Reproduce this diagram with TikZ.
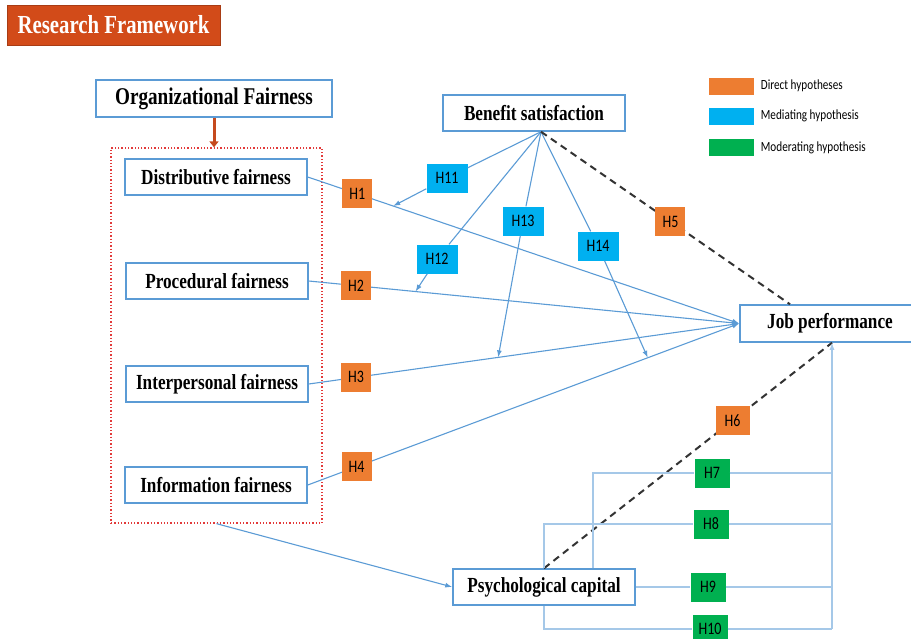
\documentclass[tikz,border=0pt]{standalone}
\usepackage{fontspec}
\newfontfamily\boxfont{Liberation Serif}[FakeStretch=0.8]
\newfontfamily\hfont{Carlito}[FakeStretch=0.8]
\usetikzlibrary{arrows.meta, positioning, calc}
\definecolor{lineblue}{HTML}{5B9BD5}
\definecolor{titlered}{HTML}{D24B19}
\definecolor{arrowred}{HTML}{C54A1E}
\definecolor{dotred}{HTML}{E23A3A}
\definecolor{hyporange}{HTML}{ED7D31}
\definecolor{hypblue}{HTML}{00B0F0}
\definecolor{hypgreen}{HTML}{00B050}

\begin{document}
\begin{tikzpicture}[
        x=1pt, y=-1pt,
        factor/.style={rectangle, draw=lineblue, line width=1.5pt, fill=white, minimum width=182pt, minimum height=36pt, inner sep=0pt, font=\boxfont\bfseries\fontsize{21.5}{24}\selectfont},
        hyp/.style={rectangle, minimum width=30pt, minimum height=29pt, inner sep=0pt, font=\hfont\fontsize{17.5}{19}\selectfont},
        direct/.style={hyp, fill=hyporange},
        mediate/.style={hyp, fill=hypblue, minimum width=41pt},
        moderate/.style={hyp, fill=hypgreen, minimum width=35pt},
        link/.style={-{Latex[length=7pt,width=5pt]}, draw=lineblue, line width=1.1pt},
        dline/.style={draw=black!80, line width=2pt, dash pattern=on 7pt off 5pt},
        modline/.style={draw=lineblue!55, line width=1.2pt},
        legbox/.style={rectangle, minimum width=45pt, minimum height=17pt, inner sep=0pt},
        legtext/.style={font=\hfont\fontsize{14}{16}\selectfont, inner sep=0pt, anchor=west}
    ]
        \useasboundingbox (0,0) rectangle (911,638);
        \node[rectangle, fill=titlered, draw=titlered!80!black, minimum width=213pt, minimum height=40pt, inner sep=0pt, text=white, font=\boxfont\bfseries\fontsize{26}{28}\selectfont] (title) at (113.5,25) {Research Framework};
        \node[factor, minimum width=236pt, minimum height=37pt, font=\boxfont\bfseries\fontsize{24}{26}\selectfont] (orgf) at (214,98.5) {Organizational Fairness};
        \node[rectangle, draw=dotred, line width=1.3pt, dotted, minimum width=211pt, minimum height=375pt] (grp) at (216.5,335.5) {};
        \draw[-{Triangle[length=6pt,width=9pt]}, draw=arrowred, line width=3pt] (orgf.south) -- (orgf.south |- grp.north);
        \node[factor] (dist) at (216,177) {Distributive fairness};
        \node[factor] (proc) at (217,281) {Procedural fairness};
        \node[factor] (inter) at (217,384) {Interpersonal fairness};
        \node[factor] (info) at (216,485) {Information fairness};
        \node[factor] (bs) at (534,113) {Benefit satisfaction};
        \node[factor, minimum width=180pt, minimum height=37pt] (jp) at (830,323.5) {Job performance};
        \node[factor] (pc) at (544,587) {Psychological capital};
        \coordinate (bsp) at ([xshift=7pt]bs.south);
        \coordinate (jpin) at ([xshift=2pt]jp.south);

        \node[legbox, fill=hyporange] (ld) at (731,86) {};
        \node[legbox, fill=hypblue] (lm) at (731,116) {};
        \node[legbox, fill=hypgreen] (lo) at (731,147.5) {};
        \node[legtext, right=7pt of ld] {Direct hypotheses};
        \node[legtext, right=7pt of lm] {Mediating hypothesis};
        \node[legtext, right=7pt of lo] {Moderating hypothesis};

        \draw[link] (dist.east) -- node[direct, pos=0.115] (h1) {H1} coordinate[pos=0.198] (t1) (jp.west);
        \draw[link] (proc.east) -- node[direct, pos=0.11] (h2) {H2} coordinate[pos=0.248] (t2) (jp.west);
        \draw[link] (inter.east) -- node[direct, pos=0.11] (h3) {H3} coordinate[pos=0.44] (t3) (jp.west);
        \draw[link] (info.east) -- node[direct, pos=0.113] (h4) {H4} coordinate[pos=0.788] (t4) (jp.west);

        \node[mediate] (h11) at (447,178) {H11};
        \node[mediate] (h12) at (437,259) {H12};
        \node[mediate] (h13) at (523,221) {H13};
        \node[mediate] (h14) at (598,246) {H14};
        \draw[link] (bsp) -- (h11) -- (t1);
        \draw[link] (bsp) -- (h12) -- (t2);
        \draw[link] (bsp) -- (h13) -- (t3);
        \draw[link] (bsp) -- (h14) -- (t4);

        \draw[dline] (bsp) -- node[direct, pos=0.52] (h5) {H5} ([xshift=-40pt]jp.north);
        \draw[dline] (pc.north) -- node[direct, pos=0.655, minimum width=34pt] (h6) {H6} (jpin);

        \node[moderate] (h7) at (712,473) {H7};
        \node[moderate] (h8) at (711,524) {H8};
        \node[moderate] (h9) at (708,587) {H9};
        \node[moderate] (h10) at (710,629) {H10};
        \draw[modline] ([xshift=49pt]pc.north) |- (h7) -- (h7 -| jpin);
        \draw[modline] (pc.north) -- (h8 -| pc) -- (h8) -- (h8 -| jpin);
        \draw[modline] (pc.east) -- (h9) -- (h9 -| jpin);
        \draw[modline] (pc.south) -- (h10 -| pc) -- (h10) -- (h10 -| jpin);
        \draw[modline, -{Latex[length=7pt,width=5pt]}] (h10 -| jpin) -- (jpin);

        \draw[link] (grp.south) -- (pc.west);
    \end{tikzpicture}
\end{document}
